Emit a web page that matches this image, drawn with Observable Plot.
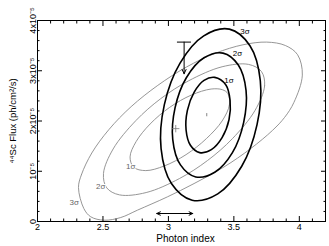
<!DOCTYPE html>
<html><head><meta charset="utf-8">
<script src="https://cdn.jsdelivr.net/npm/d3@7"></script>
<script src="https://cdn.jsdelivr.net/npm/@observablehq/plot@0.6"></script>
<style>body{margin:0;background:#fff}svg{display:block}</style>
</head><body><div id="chart"></div>
<script>
// x: photon index; y: 44Sc flux in units of 1e-5 ph/cm^2/s
const xTicks = [2, 2.5, 3, 3.5, 4];
const xTickLabels = ["2", "2.5", "3", "3.5", "4"];
const yTicks = [0, 1, 2, 3, 4];
const yTickLabels = ["0", "10\u207B\u2075", "2x10\u207B\u2075", "3x10\u207B\u2075", "4x10\u207B\u2075"];

// thick (black) confidence contours
const thick1 = [[3.354,2.868],[3.438,2.722],[3.471,2.411],[3.463,2.026],[3.410,1.669],[3.328,1.430],[3.239,1.371],[3.168,1.517],[3.135,1.821],[3.145,2.212],[3.196,2.570],[3.272,2.808]];
const thick2 = [[3.417,3.351],[3.534,3.113],[3.593,2.609],[3.575,1.974],[3.489,1.371],[3.354,0.980],[3.209,0.887],[3.092,1.126],[3.033,1.636],[3.051,2.265],[3.137,2.861],[3.272,3.258]];
const thick3 = [[3.466,3.828],[3.623,3.497],[3.702,2.801],[3.677,1.927],[3.560,1.099],[3.377,0.550],[3.181,0.424],[3.023,0.755],[2.944,1.450],[2.969,2.325],[3.089,3.152],[3.270,3.695]];
// thin (gray) confidence contours
const gray1 = [[3.455,2.543],[3.466,2.318],[3.410,2.000],[3.290,1.649],[3.135,1.331],[2.969,1.106],[2.827,1.013],[2.735,1.079],[2.707,1.285],[2.753,1.589],[2.860,1.940],[3.010,2.272],[3.176,2.517],[3.326,2.636],[3.412,2.623]];
const gray2 = [[3.710,2.987],[3.735,2.702],[3.662,2.212],[3.489,1.649],[3.298,1.212],[3.084,0.854],[2.830,0.576],[2.626,0.530],[2.529,0.669],[2.504,0.954],[2.578,1.444],[2.751,2.007],[2.941,2.444],[3.155,2.801],[3.410,3.079],[3.613,3.126]];
const gray3 = [[2.313,0.675],[2.336,0.934],[2.415,1.364],[2.545,1.828],[2.715,2.285],[2.919,2.709],[3.137,3.073],[3.361,3.351],[3.570,3.517],[3.751,3.570],[3.893,3.503],[3.987,3.318],[4.023,2.914],[3.959,2.371],[3.888,2.073],[3.796,1.815],[3.628,1.450],[3.425,1.086],[3.196,0.755],[2.992,0.490],[2.763,0.225],[2.636,0.079],[2.509,0.026],[2.407,0.093],[2.354,0.258]];

const thickLabels = [[3.585,3.79,"3\u03C3"],[3.527,3.34,"2\u03C3"],[3.463,2.81,"1\u03C3"]];
const grayLabels = [[2.712,1.086,"1\u03C3"],[2.483,0.689,"2\u03C3"],[2.28,0.371,"3\u03C3"]];

const grayBest = [[3.056, 1.848]];
const thickBest = [[3.293, 2.126]];
const limitBar = [[3.069, 3.176, 3.57]];
const limitArrow = [[3.12, 3.57, 3.12, 2.94]];
const rangeArrow = [[3.0485, 0.159, 2.911], [3.0485, 0.159, 3.186]];

const rows = (pts, id) => pts.map(([x, y]) => ({x, y, id}));
const thickRows = [...rows(thick1, "t1"), ...rows(thick2, "t2"), ...rows(thick3, "t3")];
const grayRows = [...rows(gray1, "g1"), ...rows(gray2, "g2"), ...rows(gray3, "g3")];

const xMinor = d3.range(21, 42).map(d => d / 10).filter(d => !xTicks.includes(d));
const yMinor = d3.range(1, 20).map(d => d / 5).filter(d => !yTicks.includes(d));

const font = "'Liberation Sans', Arial, Helvetica, sans-serif";
const vbar = {draw(ctx) { ctx.moveTo(0, -1.6); ctx.lineTo(0, 1.6); }};

const chart = Plot.plot({
  width: 329,
  height: 246,
  marginLeft: 37,
  marginRight: 4,
  marginTop: 20,
  marginBottom: 25,
  style: {fontFamily: font, fontSize: "9px", color: "#000", background: "#fff"},
  x: {domain: [2, 4.2]},
  y: {domain: [0, 4]},
  marks: [
    Plot.line(grayRows, {x: "x", y: "y", z: "id", stroke: "#8a8a8a", strokeWidth: 0.9, curve: "catmull-rom-closed", clip: true}),
    Plot.line(thickRows, {x: "x", y: "y", z: "id", stroke: "#000", strokeWidth: 1.6, curve: "catmull-rom-closed", clip: true}),
    Plot.text(grayLabels, {x: d => d[0], y: d => d[1], text: d => d[2], fill: "#666", fontSize: 8, stroke: "#fff", strokeWidth: 2, paintOrder: "stroke"}),
    Plot.text(thickLabels, {x: d => d[0], y: d => d[1], text: d => d[2], fill: "#000", fontSize: 8}),
    Plot.dot(grayBest, {x: d => d[0], y: d => d[1], symbol: "plus", r: 2.5, stroke: "#777", strokeWidth: 0.8}),
    Plot.dot(thickBest, {x: d => d[0], y: d => d[1], symbol: vbar, stroke: "#666", strokeWidth: 0.8}),
    Plot.ruleY(limitBar, {x1: d => d[0], x2: d => d[1], y: d => d[2], stroke: "#000", strokeWidth: 1}),
    Plot.arrow(limitArrow, {x1: d => d[0], y1: d => d[1], x2: d => d[2], y2: d => d[3], stroke: "#000", strokeWidth: 1, headLength: 7, headAngle: 50}),
    Plot.arrow(rangeArrow, {x1: d => d[0], y1: d => d[1], x2: d => d[2], y2: d => d[1], stroke: "#000", strokeWidth: 1, headLength: 6, headAngle: 50}),
    Plot.frame({stroke: "#000", strokeWidth: 1}),
    // ticks on all four sides, pointing inward
    Plot.axisX(xTicks, {anchor: "bottom", tickSize: -5, tickFormat: () => "", label: null}),
    Plot.axisX(xMinor, {anchor: "bottom", tickSize: -2.5, tickFormat: () => "", label: null}),
    Plot.axisX(xTicks, {anchor: "top", tickSize: -5, tickFormat: () => "", label: null}),
    Plot.axisX(xMinor, {anchor: "top", tickSize: -2.5, tickFormat: () => "", label: null}),
    Plot.axisY(yTicks, {anchor: "left", tickSize: -5, tickFormat: () => "", label: null}),
    Plot.axisY(yMinor, {anchor: "left", tickSize: -2.5, tickFormat: () => "", label: null}),
    Plot.axisY(yTicks, {anchor: "right", tickSize: -5, tickFormat: () => "", label: null}),
    Plot.axisY(yMinor, {anchor: "right", tickSize: -2.5, tickFormat: () => "", label: null}),
    // tick labels
    Plot.text(xTicks, {x: d => d, frameAnchor: "bottom", dy: 6, text: (d, i) => xTickLabels[i], textAnchor: "middle", lineAnchor: "middle", fontSize: 9}),
    Plot.text(yTicks, {frameAnchor: "left", y: d => d, text: (d, i) => yTickLabels[i], rotate: -90, dx: -2, textAnchor: "middle", lineAnchor: "bottom", fontSize: 9}),
    // axis titles
    Plot.text(["\u2074\u2074Sc Flux (ph/cm\u00B2/s)"], {frameAnchor: "left", dx: -25, rotate: -90, textAnchor: "middle", lineAnchor: "middle", fontSize: 9.5}),
    Plot.text(["Photon index"], {frameAnchor: "bottom", dx: 4, dy: 17, textAnchor: "middle", lineAnchor: "middle", fontSize: 10})
  ]
});
document.getElementById("chart").append(chart);
</script>
</body></html>
